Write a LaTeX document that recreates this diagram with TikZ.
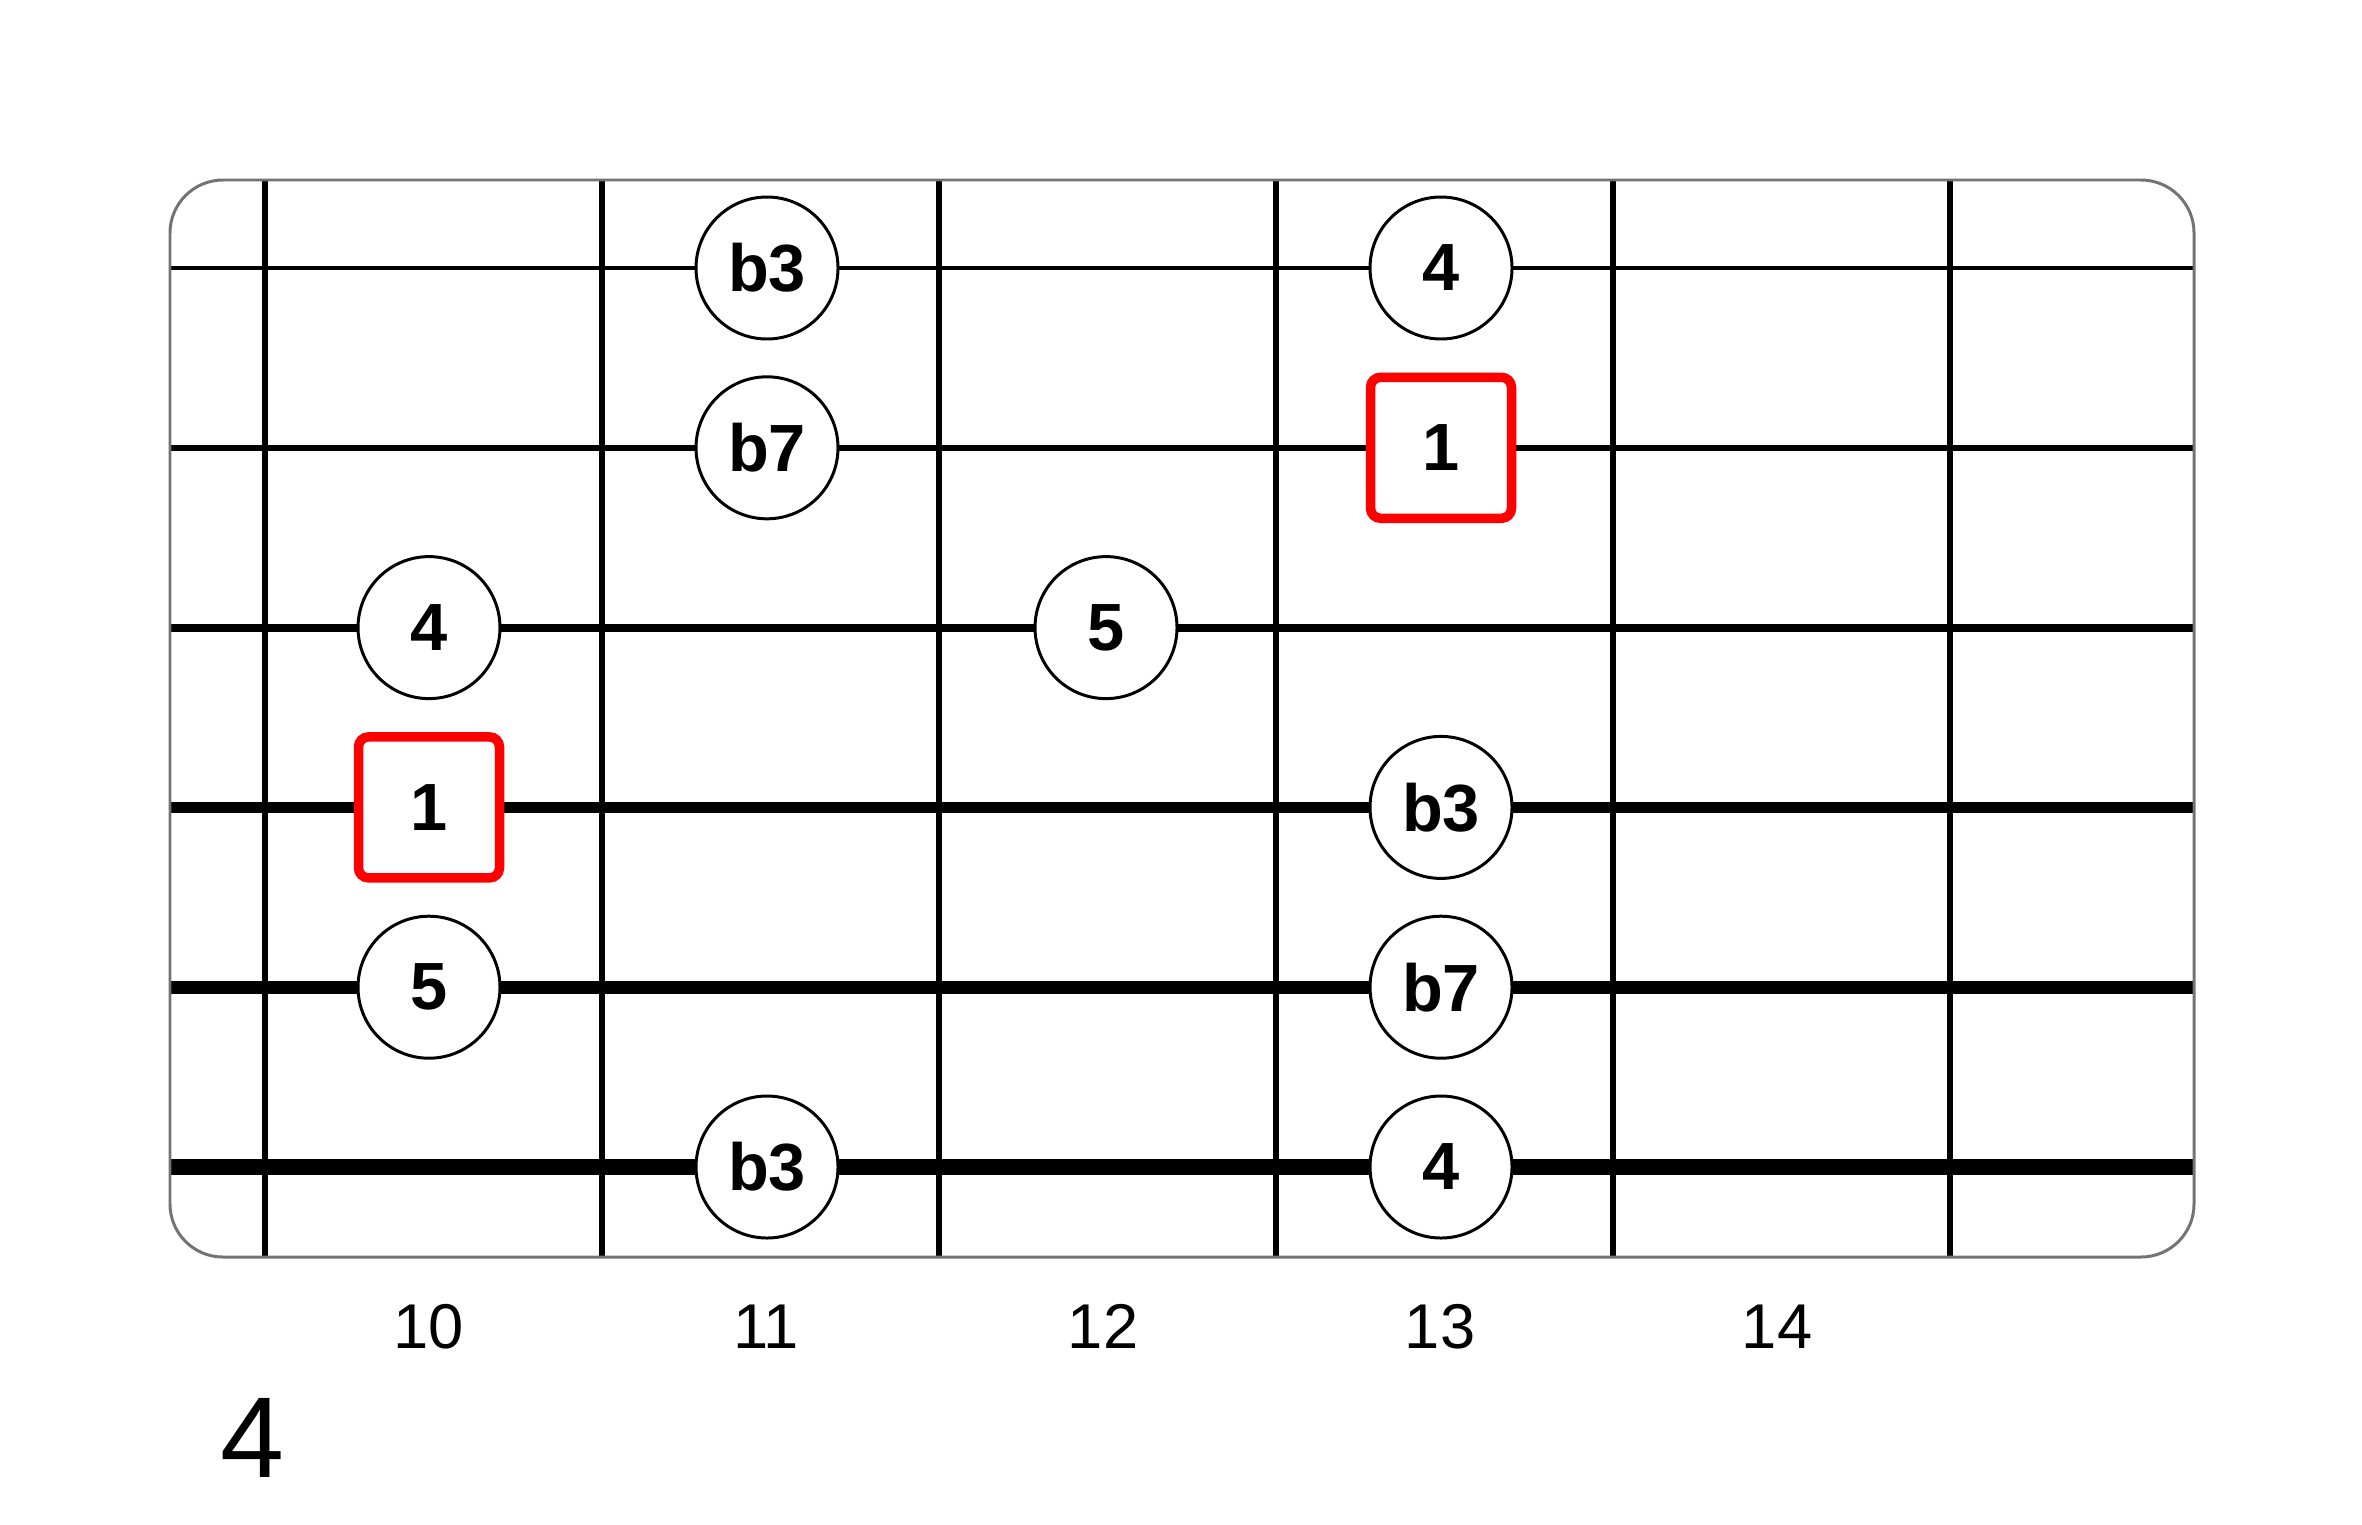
\documentclass[tikz,border=0pt]{standalone}
\usepackage{fontspec}
\setmainfont{Liberation Sans}
\usetikzlibrary{positioning}

\begin{document}
\begin{tikzpicture}[
	note/.style={circle, draw=black, line width=0.85pt, fill=white, minimum size=1.42cm, inner sep=0pt, font=\fontsize{19}{19}\selectfont\bfseries},
	root/.style={rectangle, rounded corners=0.1cm, draw=red, line width=2.7pt, fill=white, minimum size=1.41cm, inner sep=0pt, font=\fontsize{19}{19}\selectfont\bfseries},
	fretnum/.style={anchor=base, inner sep=0pt, font=\fontsize{18}{18}\selectfont}
	]
	%
	\useasboundingbox (0,0) rectangle (23.62,-15.24);
	% strings
	\foreach \s/\w in {1/1.1,2/1.7,3/2.3,4/3.1,5/3.7,6/4.3}
	\draw[line width=\w pt] (1.70,-0.882-1.798*\s) -- (21.94,-0.882-1.798*\s);
	% frets
	\foreach \f in {0,1,2,3,4,5}
	\draw[line width=1.9pt] (2.65+3.37*\f,-1.80) -- (2.65+3.37*\f,-12.57);
	% neck
	\draw[black!55, line width=0.85pt, rounded corners=0.53cm] (1.70,-1.80) rectangle (21.94,-12.57);
	%
	% notes
	\node[note] (s1f11) at (7.67,-2.68) {b3};
	\node[note] (s1f13) at (14.41,-2.68) {4};
	\node[note] (s2f11) at (7.67,-4.478) {b7};
	\node[root] (s2f13) at (14.41,-4.478) {1};
	\node[note] (s3f10) at (4.29,-6.276) {4};
	\node[note] (s3f12) at (11.06,-6.276) {5};
	\node[root] (s4f10) at (4.29,-8.074) {1};
	\node[note] (s4f13) at (14.41,-8.074) {b3};
	\node[note] (s5f10) at (4.29,-9.872) {5};
	\node[note] (s5f13) at (14.41,-9.872) {b7};
	\node[note] (s6f11) at (7.67,-11.67) {b3};
	\node[note] (s6f13) at (14.41,-11.67) {4};
	%
	% fret numbers
	\foreach \n [count=\i from 0] in {10,11,12,13,14}
	\node[fretnum] (fn\n) at (4.29+3.37*\i,-13.48) {\n};
	\node[anchor=base, inner sep=0pt, font=\fontsize{32.7}{33}\selectfont] (pos) at (2.52,-14.77) {4};
\end{tikzpicture}
\end{document}
